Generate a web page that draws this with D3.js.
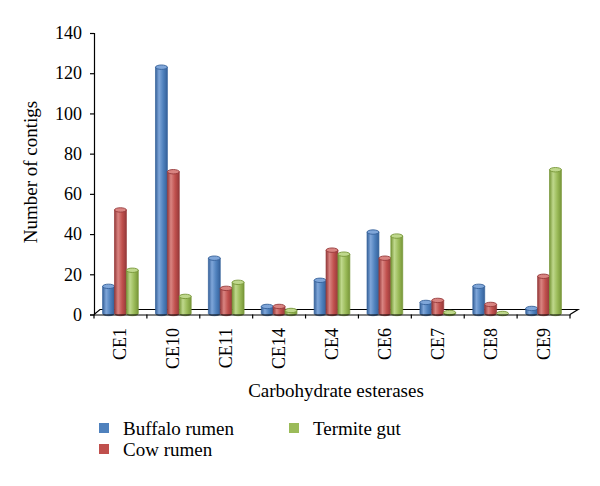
<!DOCTYPE html>
<html>
<head>
<meta charset="utf-8">
<script src="https://cdn.jsdelivr.net/npm/d3@7"></script>
<style>
  html, body { margin: 0; padding: 0; background: #fff; }
  svg { display: block; font-family: "Liberation Serif", "Times New Roman", serif; }
</style>
</head>
<body>
<svg id="chart" width="600" height="486"></svg>
<script>
// ---- data ----
const categories = ["CE1", "CE10", "CE11", "CE14", "CE4", "CE6", "CE7", "CE8", "CE9"];
const seriesNames = ["Buffalo rumen", "Cow rumen", "Termite gut"];
const buffaloRumen = [14, 123, 28, 4, 17, 41, 6, 14, 3];
const cowRumen = [52, 71, 13, 4, 32, 28, 7, 5, 19];
const termiteGut = [22, 9, 16, 2, 30, 39, 1, 0, 72];
const yTicks = [0, 20, 40, 60, 80, 100, 120, 140];

const seriesValues = [buffaloRumen, cowRumen, termiteGut];
const colors = [
  { base: "#4F81BD", light: "#7fa6d9", dark: "#35619a" },
  { base: "#C0504D", light: "#d98481", dark: "#96393a" },
  { base: "#9BBB59", light: "#bfd88c", dark: "#779638" }
];

const svg = d3.select("#chart");
const defs = svg.append("defs");
colors.forEach((c, i) => {
  const g = defs.append("linearGradient").attr("id", "grad" + i)
    .attr("x1", "0%").attr("x2", "100%").attr("y1", "0%").attr("y2", "0%");
  g.append("stop").attr("offset", "0%").attr("stop-color", c.dark);
  g.append("stop").attr("offset", "30%").attr("stop-color", c.light);
  g.append("stop").attr("offset", "65%").attr("stop-color", c.base);
  g.append("stop").attr("offset", "100%").attr("stop-color", c.dark);
});

const x0 = d3.scaleBand().domain(categories).range([94, 570]).padding(0);
const x1 = d3.scaleBand().domain(d3.range(3))
  .range([8.6, x0.bandwidth() - 8.6]).padding(0);
const y = d3.scaleLinear().domain([0, 140]).range([314.5, 33]);

const depth = { dx: 6, dy: 5 };

// floor (3D base)
svg.append("path")
  .attr("d", `M${x0.range()[0]},${y(0)} L${x0.range()[0] + depth.dx},${y(0) - depth.dy} L${x0.range()[1] + depth.dx + 2},${y(0) - depth.dy} L${x0.range()[1]},${y(0)}`)
  .attr("fill", "none").attr("stroke", "#000").attr("stroke-width", 1.2);

// bars
const groups = svg.append("g").selectAll("g")
  .data(categories).join("g")
  .attr("transform", d => `translate(${x0(d)},0)`);

groups.each(function(cat, ci) {
  const g = d3.select(this);
  seriesValues.forEach((vals, si) => {
    const v = vals[ci];
    const bx = x1(si), bw = x1.bandwidth();
    const top = y(v), bot = y(0) - 1;
    const ry = 2.2;
    if (bot - top > 0) {
      g.append("path")
        .attr("d", `M${bx},${top} L${bx},${bot} A${bw / 2},${ry} 0 0 0 ${bx + bw},${bot} L${bx + bw},${top} Z`)
        .attr("fill", `url(#grad${si})`)
        .attr("stroke", colors[si].dark).attr("stroke-width", 0.7);
    }
    g.append("ellipse")
      .attr("cx", bx + bw / 2).attr("cy", Math.min(top, bot))
      .attr("rx", bw / 2).attr("ry", ry)
      .attr("fill", colors[si].light)
      .attr("stroke", colors[si].dark).attr("stroke-width", 0.9);
  });
});

// y axis
const yAxis = svg.append("g").attr("transform", "translate(94,0)")
  .call(d3.axisLeft(y).tickValues(yTicks).tickSize(4).tickPadding(8));
yAxis.select(".domain").attr("stroke", "#000").attr("stroke-width", 1.2);
yAxis.selectAll(".tick line").attr("stroke", "#000").attr("stroke-width", 1.2);
yAxis.selectAll(".tick text").attr("font-family", "Liberation Serif, serif")
  .attr("font-size", 18).attr("fill", "#000");

// x axis
const xAxis = svg.append("g").attr("transform", `translate(0,${y(0)})`)
  .call(d3.axisBottom(x0).tickSize(0).tickPadding(0));
xAxis.select(".domain").attr("stroke", "#000").attr("stroke-width", 1.2);
xAxis.selectAll(".tick text").remove();
// boundary ticks
svg.append("g").selectAll("line")
  .data(d3.range(categories.length + 1)).join("line")
  .attr("x1", i => x0.range()[0] + i * x0.step())
  .attr("x2", i => x0.range()[0] + i * x0.step())
  .attr("y1", y(0)).attr("y2", y(0) + 4)
  .attr("stroke", "#000").attr("stroke-width", 1.2);
// category labels
svg.append("g").selectAll("text")
  .data(categories).join("text")
  .attr("transform", d => `translate(${x0(d) + x0.bandwidth() / 2 + 6},328) rotate(-90)`)
  .attr("text-anchor", "end")
  .attr("font-size", 18).attr("fill", "#000")
  .text(d => d);

// axis titles
svg.append("text")
  .attr("transform", "translate(37,172) rotate(-90)")
  .attr("text-anchor", "middle").attr("font-size", 19).attr("fill", "#000")
  .text("Number of contigs");
svg.append("text")
  .attr("x", 336).attr("y", 397)
  .attr("text-anchor", "middle").attr("font-size", 19).attr("fill", "#000")
  .text("Carbohydrate esterases");

// legend
const legendPos = [
  { x: 99, y: 423 },
  { x: 99, y: 444 },
  { x: 289, y: 423 }
];
const legend = svg.append("g").selectAll("g")
  .data(seriesNames).join("g")
  .attr("transform", (d, i) => `translate(${legendPos[i].x},${legendPos[i].y})`);
legend.append("rect").attr("width", 10).attr("height", 10)
  .attr("fill", (d, i) => colors[i].base);
legend.append("text").attr("x", 24).attr("y", 12)
  .attr("font-size", 19).attr("fill", "#000")
  .text(d => d);
</script>
</body>
</html>
